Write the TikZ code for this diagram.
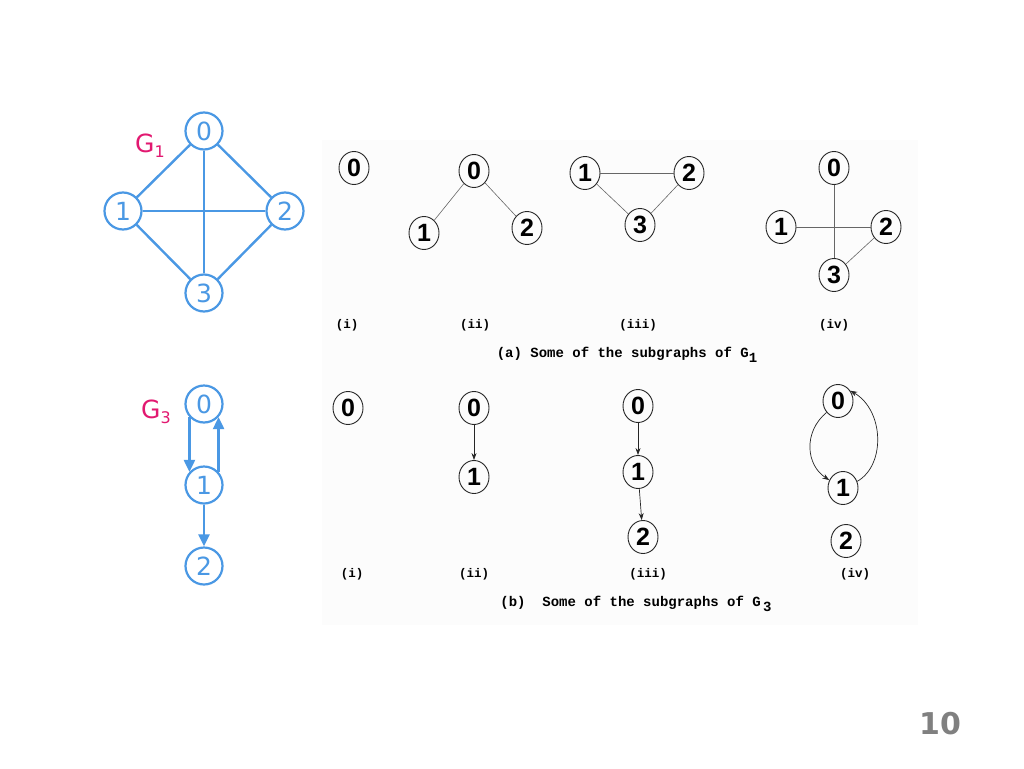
\documentclass[tikz,border=0pt]{standalone}
\usepackage{fontspec}
\setmainfont{DejaVu Sans}
\newfontfamily\scanfont{Liberation Mono}
\newfontfamily\digfont{Liberation Sans}
\usetikzlibrary{arrows.meta,shapes.geometric}
\definecolor{gblue}{RGB}{74,152,228}
\definecolor{gmag}{RGB}{226,24,112}
\definecolor{pgray}{RGB}{128,128,128}
\tikzset{
  bnode/.style={circle,draw=gblue,line width=2.2pt,minimum size=37pt,inner sep=0pt,text=gblue,font=\fontsize{25}{25}\selectfont},
  bedge/.style={draw=gblue,line width=2.4pt},
  barrow/.style={bedge,-{Triangle[length=12pt,width=11pt]}},
  knode/.style={ellipse,draw=black!85,line width=0.9pt,minimum width=30pt,minimum height=33pt,inner sep=0pt,font=\digfont\bfseries\fontsize{25}{25}\selectfont},
  kedge/.style={draw=black!60,line width=0.6pt},
  karrow/.style={draw=black!85,line width=0.7pt,-{Stealth[length=7pt,width=5pt]}},
  klabel/.style={font=\scanfont\bfseries\fontsize{12.5}{12.5}\selectfont},
  kcap/.style={font=\scanfont\bfseries\fontsize{14}{14}\selectfont},
  glabel/.style={text=gmag,font=\fontsize{25}{25}\selectfont}
}
\begin{document}
\begin{tikzpicture}[x=1pt,y=-1pt]
\useasboundingbox (0,0) rectangle (1024,768);
\fill[white] (0,0) rectangle (1024,768);
\fill[black!1] (322,140) rectangle (918,625);
% G1
\node[bnode] (a0) at (204,131) {0};
\node[bnode] (a1) at (123,211) {1};
\node[bnode] (a2) at (285,211) {2};
\node[bnode] (a3) at (204,293) {3};
\draw[bedge] (a0) -- (a1);
\draw[bedge] (a0) -- (a2);
\draw[bedge] (a0) -- (a3);
\draw[bedge] (a1) -- (a2);
\draw[bedge] (a1) -- (a3);
\draw[bedge] (a2) -- (a3);
\node[glabel] (g1) at (150,146) {G\raisebox{-5pt}{\fontsize{16}{16}\selectfont 1}};
% G3
\node[bnode] (c0) at (204,404) {0};
\node[bnode] (c1) at (204,485) {1};
\node[bnode] (c2) at (204,566) {2};
\draw[barrow] (c0.222) -- (c1.138);
\draw[barrow] (c1.42) -- (c0.318);
\draw[barrow] (c1) -- (c2);
\node[glabel] (g3) at (156,412) {G\raisebox{-5pt}{\fontsize{16}{16}\selectfont 3}};
% (a) subgraphs of G1
\node[knode] (p0) at (354,168) {0};
\node[knode] (q0) at (474,171) {0};
\node[knode] (q1) at (424,233) {1};
\node[knode] (q2) at (527,228) {2};
\draw[kedge] (q0) -- (q1);
\draw[kedge] (q0) -- (q2);
\node[knode] (r1) at (585,173) {1};
\node[knode] (r2) at (689,173) {2};
\node[knode] (r3) at (640,225) {3};
\draw[kedge] (r1) -- (r2);
\draw[kedge] (r1) -- (r3);
\draw[kedge] (r2) -- (r3);
\node[knode] (s0) at (834,168) {0};
\node[knode] (s1) at (781,227) {1};
\node[knode] (s2) at (886,227) {2};
\node[knode] (s3) at (834,275) {3};
\draw[kedge] (s0) -- (s3);
\draw[kedge] (s1) -- (s2);
\draw[kedge] (s2) -- (s3);
\node[klabel] (la1) at (347,325) {(i)};
\node[klabel] (la2) at (475,325) {(ii)};
\node[klabel] (la3) at (638,325) {(iii)};
\node[klabel] (la4) at (834,325) {(iv)};
\node[kcap] (capa) at (627,355) {(a) Some of the subgraphs of G\raisebox{-5pt}{1}};
% (b) subgraphs of G3
\node[knode] (t0) at (348,408) {0};
\node[knode] (u0) at (474,408) {0};
\node[knode] (u1) at (474,477) {1};
\draw[karrow] (u0) -- (u1);
\node[knode] (v0) at (638,406) {0};
\node[knode] (v1) at (638,472) {1};
\node[knode] (v2) at (643,537) {2};
\draw[karrow] (v0) -- (v1);
\draw[karrow] (v1) -- (v2);
\node[knode] (w0) at (838,401) {0};
\node[knode] (w1) at (843,488) {1};
\node[knode] (w2) at (846,541) {2};
\draw[karrow] (w0.225) .. controls (803,432) and (806,465) .. (w1.150);
\draw[karrow] (w1.25) .. controls (886,465) and (884,410) .. (w0.40);
\node[klabel] (lb1) at (352,574) {(i)};
\node[klabel] (lb2) at (474,574) {(ii)};
\node[klabel] (lb3) at (648,574) {(iii)};
\node[klabel] (lb4) at (855,574) {(iv)};
\node[kcap] (capb) at (636,604) {(b)\ \ Some of the subgraphs of G\,\raisebox{-5pt}{3}};
% page number
\node[text=pgray,font=\bfseries\fontsize{30}{30}\selectfont] (pg) at (940,724) {10};
\end{tikzpicture}
\end{document}
